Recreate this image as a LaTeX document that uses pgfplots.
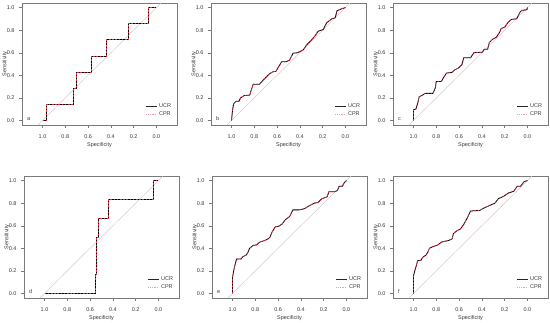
\documentclass[border=0pt]{standalone}
\usepackage{pgfplots}
\usepackage{pgfplotstable}
\pgfplotsset{compat=1.18}
\usepackage{fontspec}
\setmainfont{Liberation Sans}
\definecolor{boxgray}{HTML}{7A7A7A}
\definecolor{txtgray}{HTML}{3A3A3A}
\definecolor{diaggray}{HTML}{D8C8CC}
\definecolor{cprred}{HTML}{E0304A}
\definecolor{cprleg}{HTML}{E8A0B0}
\pgfplotsset{
  rocstyle/.style={
    scale only axis, width=155pt, height=122pt,
    x dir=reverse, xmin=-0.18, xmax=1.18, ymin=-0.04, ymax=1.04,
    xtick={0,0.2,0.4,0.6,0.8,1}, ytick={0,0.2,0.4,0.6,0.8,1},
    /pgf/number format/.cd, fixed, fixed zerofill, precision=1, assume math mode=true, /pgfplots/.cd,
    tick align=outside, xtick pos=bottom, ytick pos=left,
    major tick length=3pt,
    tick style={boxgray, line width=0.4pt},
    axis line style={boxgray, line width=0.5pt},
    tick label style={font=\fontsize{5.5}{6}\selectfont, text=txtgray},
    xticklabel style={yshift=-3pt},
    yticklabel style={xshift=-1pt},
    label style={font=\fontsize{5.5}{6}\selectfont, text=txtgray},
    xlabel=Specificity, ylabel=Sensitivity,
    xlabel style={at={([yshift=-20pt]axis description cs:0.5,0)}, anchor=center},
    ylabel style={at={([xshift=-17pt]axis description cs:0,0.5)}, anchor=center},
    legend style={draw=none, fill=none, at={(0.995,0.03)}, anchor=south east,
      font=\fontsize{5.5}{6}\selectfont, text=txtgray, row sep=-1pt,
      /tikz/every even column/.append style={column sep=1pt}},
    legend cell align=left,
    clip=true,
  },
  ucr/.style={black, line width=0.8pt,
    legend image code/.code={\draw[black!85, line width=0.5pt] (0pt,0pt) -- (11pt,0pt);}},
  cpr/.style={cprred, line width=0.7pt, dash pattern=on 1.6pt off 1.6pt,
    legend image code/.code={\draw[cprleg, line width=0.5pt, dash pattern=on 1.2pt off 1pt] (0pt,0pt) -- (11pt,0pt);}},
  diag/.style={diaggray, line width=0.5pt, forget plot},
}
\pgfplotstableread{
x y
1.0 0
0.995 0.05
0.99 0.10
0.98 0.15
0.96 0.17
0.935 0.17
0.92 0.20
0.89 0.22
0.84 0.225
0.83 0.26
0.81 0.32
0.755 0.32
0.725 0.355
0.70 0.38
0.67 0.41
0.64 0.43
0.61 0.435
0.59 0.47
0.56 0.52
0.52 0.52
0.49 0.535
0.46 0.595
0.42 0.60
0.37 0.625
0.34 0.67
0.31 0.70
0.27 0.745
0.24 0.79
0.195 0.805
0.165 0.865
0.12 0.90
0.09 0.91
0.075 0.97
0.045 0.985
0.0 1.0
}\tabb
\pgfplotstableread{
x y
1.0 0
1.0 0.096
0.98 0.10
0.964 0.15
0.95 0.21
0.92 0.225
0.90 0.24
0.83 0.24
0.81 0.285
0.80 0.345
0.755 0.345
0.74 0.375
0.71 0.42
0.665 0.425
0.635 0.45
0.605 0.465
0.575 0.495
0.56 0.555
0.50 0.555
0.47 0.60
0.395 0.605
0.38 0.63
0.35 0.63
0.335 0.69
0.305 0.72
0.275 0.735
0.245 0.78
0.23 0.815
0.20 0.825
0.17 0.87
0.14 0.895
0.095 0.90
0.065 0.96
0.05 0.975
0.005 0.98
0.0 1.0
}\tabc
\pgfplotstableread{
x y
1.0 0
1.0 0.14
0.99 0.20
0.98 0.245
0.965 0.305
0.925 0.305
0.91 0.325
0.88 0.34
0.865 0.365
0.85 0.40
0.82 0.425
0.79 0.43
0.76 0.455
0.715 0.47
0.685 0.485
0.67 0.50
0.655 0.54
0.625 0.59
0.595 0.595
0.565 0.615
0.535 0.655
0.50 0.68
0.47 0.74
0.415 0.74
0.37 0.75
0.32 0.78
0.28 0.80
0.25 0.805
0.215 0.84
0.17 0.855
0.155 0.90
0.11 0.90
0.08 0.91
0.065 0.95
0.035 0.95
0.02 0.98
0.0 1.0
}\tabe
\pgfplotstableread{
x y
1.0 0
1.0 0.155
0.985 0.215
0.973 0.255
0.964 0.29
0.934 0.295
0.92 0.32
0.89 0.34
0.875 0.365
0.86 0.40
0.83 0.415
0.785 0.43
0.755 0.455
0.69 0.47
0.66 0.485
0.65 0.53
0.62 0.555
0.59 0.57
0.56 0.61
0.53 0.665
0.50 0.73
0.42 0.735
0.375 0.76
0.33 0.78
0.285 0.80
0.255 0.84
0.21 0.86
0.165 0.89
0.12 0.905
0.09 0.95
0.06 0.95
0.03 0.99
0.0 1.0
}\tabf
\begin{document}
\begin{tikzpicture}
\useasboundingbox (0pt,0pt) rectangle (550pt,322pt);

% ---------- a ----------
\begin{axis}[rocstyle, at={(22pt,197pt)}, anchor=south west]
\addplot[diag] coordinates {(1.04,-0.04) (-0.04,1.04)};
\addplot[ucr] coordinates {(1,0) (0.962,0) (0.962,0.143) (0.729,0.143) (0.729,0.286) (0.70,0.286) (0.70,0.429) (0.568,0.429) (0.568,0.571) (0.441,0.571) (0.441,0.714) (0.25,0.714) (0.25,0.857) (0.074,0.857) (0.074,1) (0,1)};
\addplot[cpr] coordinates {(1,0) (0.962,0) (0.962,0.143) (0.729,0.143) (0.729,0.286) (0.70,0.286) (0.70,0.429) (0.568,0.429) (0.568,0.571) (0.441,0.571) (0.441,0.714) (0.25,0.714) (0.25,0.857) (0.074,0.857) (0.074,1) (0,1)};
\legend{UCR,CPR}
\node[font=\fontsize{5.5}{6}\selectfont, text=txtgray, anchor=west] at (axis cs:1.165,0.015) {a};
\end{axis}

% ---------- b ----------
\begin{axis}[rocstyle, at={(211pt,197pt)}, anchor=south west]
\addplot[diag] coordinates {(1.04,-0.04) (-0.04,1.04)};
\addplot[ucr] table {\tabb};
\addplot[cpr] table {\tabb};
\legend{UCR,CPR}
\node[font=\fontsize{5.5}{6}\selectfont, text=txtgray, anchor=west] at (axis cs:1.165,0.015) {b};
\end{axis}

% ---------- c ----------
\begin{axis}[rocstyle, at={(393pt,197pt)}, anchor=south west]
\addplot[diag] coordinates {(1.04,-0.04) (-0.04,1.04)};
\addplot[ucr] table {\tabc};
\addplot[cpr] table {\tabc};
\legend{UCR,CPR}
\node[font=\fontsize{5.5}{6}\selectfont, text=txtgray, anchor=west] at (axis cs:1.165,0.015) {c};
\end{axis}

% ---------- d ----------
\begin{axis}[rocstyle, at={(24pt,24pt)}, anchor=south west]
\addplot[diag] coordinates {(1.04,-0.04) (-0.04,1.04)};
\addplot[ucr] coordinates {(1,0) (0.556,0) (0.556,0.167) (0.545,0.167) (0.545,0.5) (0.527,0.5) (0.527,0.667) (0.44,0.667) (0.44,0.833) (0.044,0.833) (0.044,1) (0,1)};
\addplot[cpr] coordinates {(1,0) (0.556,0) (0.556,0.167) (0.545,0.167) (0.545,0.5) (0.527,0.5) (0.527,0.667) (0.44,0.667) (0.44,0.833) (0.044,0.833) (0.044,1) (0,1)};
\legend{UCR,CPR}
\node[font=\fontsize{5.5}{6}\selectfont, text=txtgray, anchor=west] at (axis cs:1.165,0.015) {d};
\end{axis}

% ---------- e ----------
\begin{axis}[rocstyle, at={(212pt,24pt)}, anchor=south west]
\addplot[diag] coordinates {(1.04,-0.04) (-0.04,1.04)};
\addplot[ucr] table {\tabe};
\addplot[cpr] table {\tabe};
\legend{UCR,CPR}
\node[font=\fontsize{5.5}{6}\selectfont, text=txtgray, anchor=west] at (axis cs:1.165,0.015) {e};
\end{axis}

% ---------- f ----------
\begin{axis}[rocstyle, at={(393pt,24pt)}, anchor=south west]
\addplot[diag] coordinates {(1.04,-0.04) (-0.04,1.04)};
\addplot[ucr] table {\tabf};
\addplot[cpr] table {\tabf};
\legend{UCR,CPR}
\node[font=\fontsize{5.5}{6}\selectfont, text=txtgray, anchor=west] at (axis cs:1.165,0.015) {f};
\end{axis}
\end{tikzpicture}
\end{document}
